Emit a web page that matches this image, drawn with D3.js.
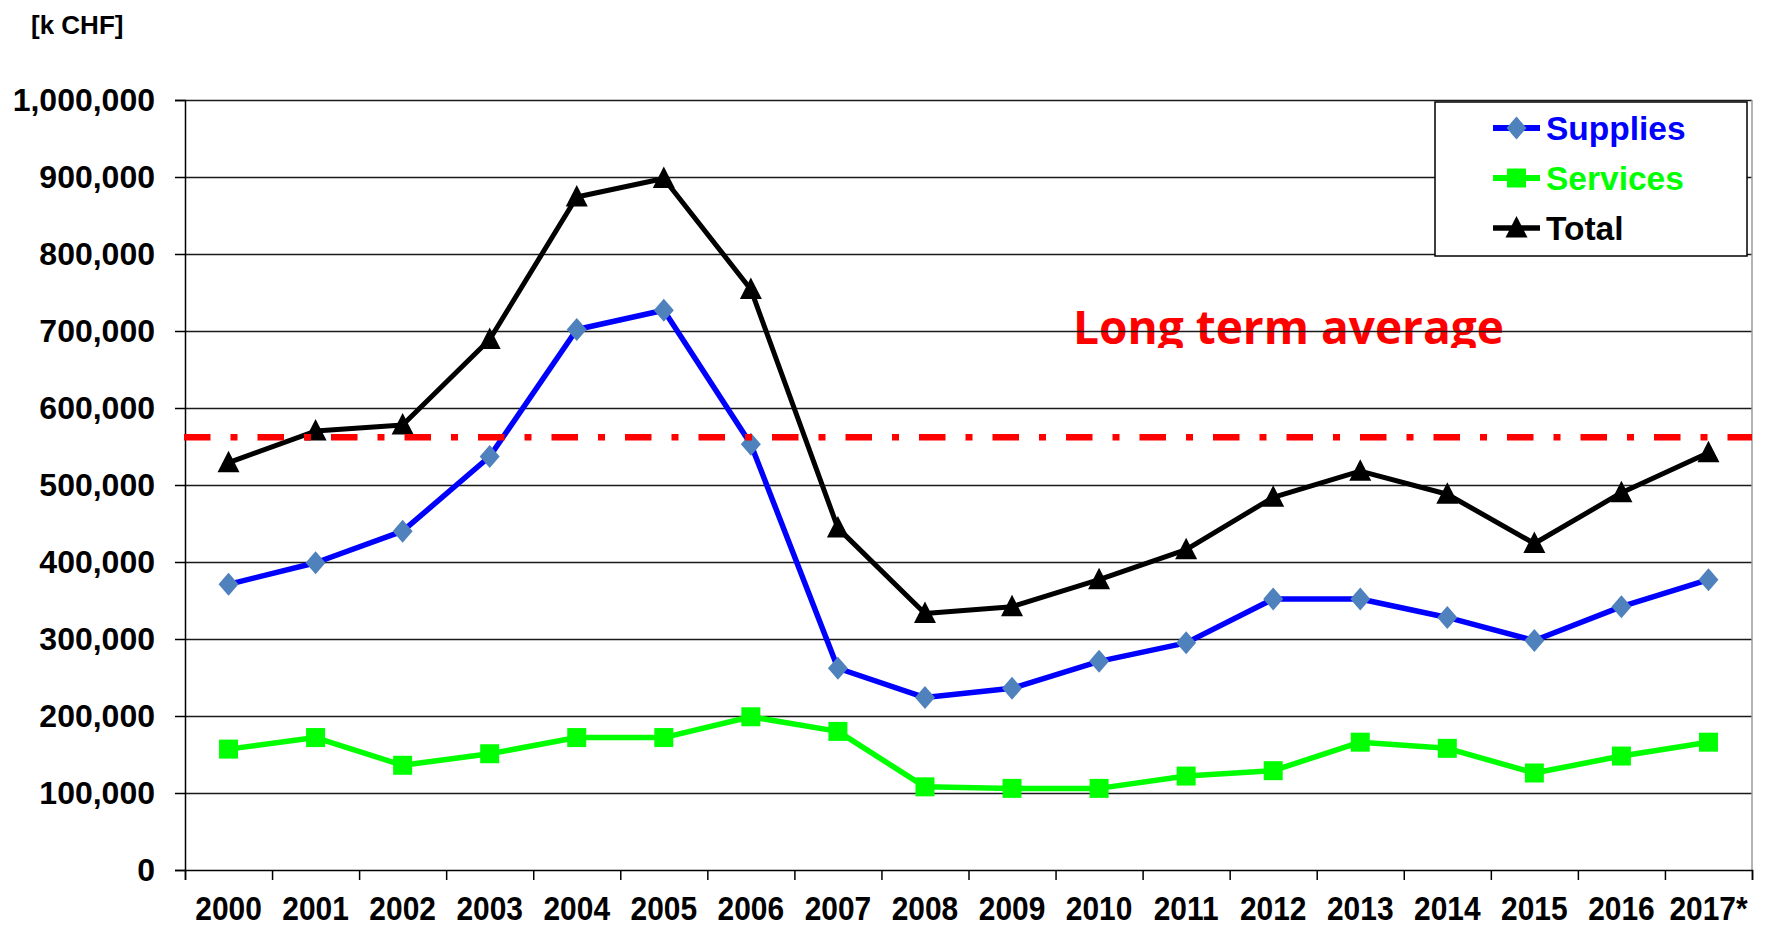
<!DOCTYPE html>
<html>
<head>
<meta charset="UTF-8">
<title>Supplies and services [k CHF]</title>
<script src="https://cdn.jsdelivr.net/npm/d3@7"></script>
<style>
  body { margin: 0; background: #fff; }
  svg { display: block; font-family: "Liberation Sans", Arial, sans-serif; }
</style>
</head>
<body>
<svg id="chart" width="1769" height="927"></svg>
<script>
// values, in k CHF
const years = ["2000","2001","2002","2003","2004","2005","2006","2007","2008",
               "2009","2010","2011","2012","2013","2014","2015","2016","2017*"];
const supplies = [371000, 399000, 440000, 537000, 702000, 727000, 553000, 262000, 224000,
                  236000, 271000, 295000, 352000, 352000, 328000, 298000, 342000, 377000];
const services = [157000, 172000, 136000, 151000, 172000, 172000, 199000, 180000, 108000,
                  106000, 106000, 122000, 129000, 166000, 158000, 126000, 148000, 166000];
const total = [529000, 570000, 578000, 689000, 874000, 898000, 754000, 444000, 333000,
               342000, 377000, 416000, 484000, 518000, 488000, 424000, 490000, 542000];
const longTermAverage = 562000;
const yTicks = [0, 100000, 200000, 300000, 400000, 500000, 600000, 700000, 800000, 900000, 1000000];

const plot = { left: 185, right: 1752, top: 100, bottom: 870 };

const svg = d3.select("#chart");

const x = d3.scaleBand().domain(years).range([plot.left, plot.right]);
const xEdge = d3.scaleLinear().domain([0, years.length]).range([plot.left, plot.right]);
const y = d3.scaleLinear().domain([0, 1000000]).range([plot.bottom, plot.top]);
const cx = d => x(d) + x.bandwidth() / 2;

// unit label
svg.append("text")
    .attr("x", 31).attr("y", 34)
    .attr("font-size", 26).attr("font-weight", "bold")
    .text("[k CHF]");

// red annotation, cut off at the bottom like in the original
svg.append("clipPath").attr("id", "annClip")
    .append("rect").attr("x", 1000).attr("y", 280).attr("width", 600).attr("height", 68);
svg.append("text")
    .attr("clip-path", "url(#annClip)")
    .attr("x", 1073).attr("y", 344)
    .attr("font-family", "'Open Sans', sans-serif")
    .attr("font-size", 46).attr("font-weight", "bold")
    .attr("fill", "#ff0000")
    .attr("textLength", 431).attr("lengthAdjust", "spacingAndGlyphs")
    .text("Long term average");

// gridlines
svg.append("g")
    .attr("transform", `translate(${plot.left},0)`)
    .call(d3.axisLeft(y).tickValues(yTicks.slice(1)).tickSize(-(plot.right - plot.left)).tickFormat(""))
    .call(g => g.select(".domain").remove())
    .call(g => g.selectAll("line").attr("stroke", "#1a1a1a").attr("stroke-width", 1.4));

// right border of plot area
svg.append("line")
    .attr("x1", plot.right).attr("x2", plot.right).attr("y1", plot.top).attr("y2", plot.bottom)
    .attr("stroke", "#9a9a9a").attr("stroke-width", 1.5);

// y axis
svg.append("g")
    .attr("transform", `translate(${plot.left},0)`)
    .call(d3.axisLeft(y).tickValues(yTicks).tickSize(10).tickPadding(20).tickFormat(d3.format(",")))
    .call(g => g.selectAll("line, path").attr("stroke", "#000").attr("stroke-width", 1.5))
    .call(g => g.selectAll("text")
        .attr("font-size", 32).attr("font-weight", "bold")
        .attr("font-family", "'Liberation Sans', Arial, sans-serif").attr("fill", "#000"));

// x axis: ticks between categories
svg.append("g")
    .attr("transform", `translate(0,${plot.bottom})`)
    .call(d3.axisBottom(xEdge).tickValues(d3.range(years.length + 1)).tickSize(10).tickFormat(""))
    .call(g => g.selectAll("line, path").attr("stroke", "#000").attr("stroke-width", 1.5));

// x labels
svg.append("g")
    .attr("transform", `translate(0,${plot.bottom})`)
    .call(d3.axisBottom(x).tickSize(0))
    .call(g => g.select(".domain").remove())
    .call(g => g.selectAll("text")
        .attr("y", 50).attr("dy", 0)
        .attr("transform", "scale(0.88,1)")
        .attr("font-size", 34).attr("font-weight", "bold")
        .attr("font-family", "'Liberation Sans', Arial, sans-serif").attr("fill", "#000"));

// marker shapes
const diamond = (px, py) => `M${px},${py - 11.5}L${px + 10},${py}L${px},${py + 11.5}L${px - 10},${py}Z`;
const square = (px, py) => `M${px - 9.5},${py - 9.5}h19v19h-19Z`;
const triangle = (px, py) => `M${px},${py - 12}L${px + 11},${py + 9.5}L${px - 11},${py + 9.5}Z`;

const series = [
  { name: "Supplies", values: supplies, line: "#0000ff", width: 5.5, marker: diamond, fill: "#4f81bd", text: "#0000ff" },
  { name: "Services", values: services, line: "#00ff00", width: 5.5, marker: square, fill: "#00ff00", text: "#00ff00" },
  { name: "Total", values: total, line: "#000000", width: 5, marker: triangle, fill: "#000000", text: "#000000" }
];

const lineGen = d3.line().x((d, i) => cx(years[i])).y(d => y(d));

series.forEach(s => {
  const g = svg.append("g");
  g.append("path")
      .datum(s.values)
      .attr("d", lineGen)
      .attr("fill", "none")
      .attr("stroke", s.line)
      .attr("stroke-width", s.width)
      .attr("stroke-linejoin", "round");
  g.selectAll("path.marker")
      .data(s.values)
      .join("path")
      .attr("class", "marker")
      .attr("d", (d, i) => s.marker(cx(years[i]), y(d)))
      .attr("fill", s.fill);
});

// long term average line
svg.append("line")
    .attr("x1", plot.left - 1).attr("x2", plot.right)
    .attr("y1", y(longTermAverage)).attr("y2", y(longTermAverage))
    .attr("stroke", "#ff0000").attr("stroke-width", 6.5)
    .attr("stroke-dasharray", "26.5,20,7,20");

// legend
const legend = svg.append("g");
legend.append("rect")
    .attr("x", 1435).attr("y", 102).attr("width", 312).attr("height", 154)
    .attr("fill", "#fff").attr("stroke", "#000").attr("stroke-width", 1.5);

series.forEach((s, i) => {
  const ly = 128 + i * 50;
  legend.append("line")
      .attr("x1", 1493).attr("x2", 1540).attr("y1", ly).attr("y2", ly)
      .attr("stroke", s.line).attr("stroke-width", s.width + 0.5);
  legend.append("path")
      .attr("d", s.marker(1516.5, ly))
      .attr("fill", s.fill);
  legend.append("text")
      .attr("x", 1546).attr("y", ly + 12)
      .attr("font-size", 33.5).attr("font-weight", "bold")
      .attr("fill", s.text)
      .text(s.name);
});
</script>
</body>
</html>
